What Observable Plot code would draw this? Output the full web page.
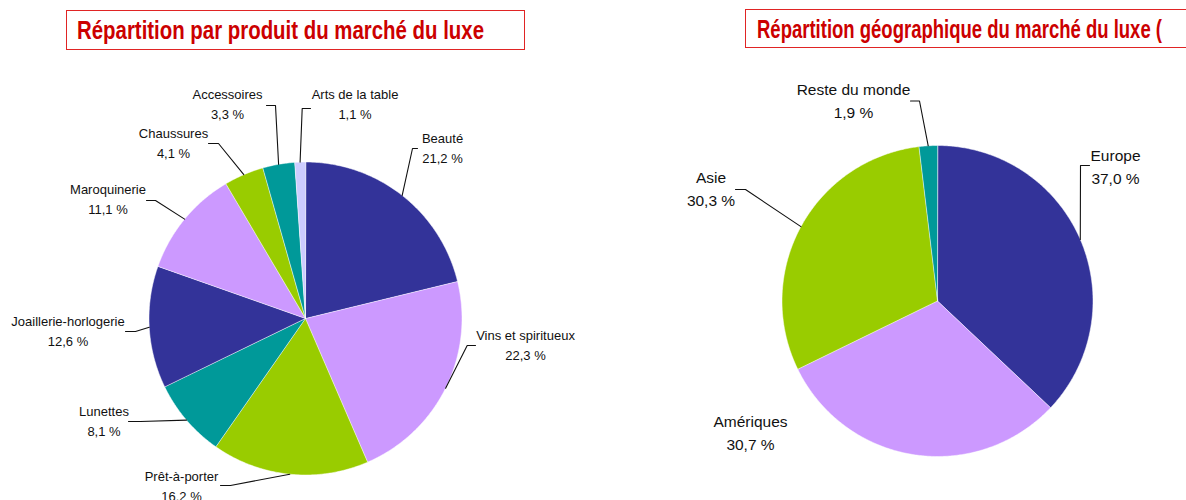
<!DOCTYPE html>
<html>
<head>
<meta charset="utf-8">
<script src="https://cdn.jsdelivr.net/npm/d3@7"></script>
<script src="https://cdn.jsdelivr.net/npm/@observablehq/plot@0.6"></script>
<style>
  html, body { margin: 0; padding: 0; background: #fff; overflow: hidden; }
  #wrap { position: relative; width: 1186px; height: 500px; overflow: hidden; background: #fff; }
  #chart { position: absolute; left: 0; top: 0; }
  .tbox { position: absolute; box-sizing: border-box; border: 1.5px solid #E02424; background: transparent; }
  .ttext { position: absolute; white-space: nowrap; height: 30px; }
  .ttext span { display: inline-block; transform-origin: 0 0; font-family: "Liberation Sans Narrow", "Arial Narrow", "Liberation Sans", Arial, sans-serif; font-weight: bold; font-size: 25px; line-height: 25px; color: #CC0000; }
</style>
</head>
<body>
<div id="wrap">
  <div id="chart"></div>
  <div class="tbox" style="left:66px;top:10px;width:459px;height:40px;"></div>
  <div class="tbox" style="left:745px;top:9px;width:520px;height:39px;"></div>
  <div class="ttext" id="t1" style="left:77px;top:18px;"><span></span></div>
  <div class="ttext" id="t2" style="left:757px;top:17px;"><span></span></div>
</div>
<script>
// ---------- data ----------
const titleProducts = "Répartition par produit du marché du luxe";
const titleRegions = "Répartition géographique du marché du luxe (";

const productCategories = ["Beauté", "Vins et spiritueux", "Prêt-à-porter", "Lunettes", "Joaillerie-horlogerie", "Maroquinerie", "Chaussures", "Accessoires", "Arts de la table"];
const productShares = [21.2, 22.3, 16.2, 8.1, 12.6, 11.1, 4.1, 3.3, 1.1];
const productShareLabels = ["21,2 %", "22,3 %", "16.2 %", "8,1 %", "12,6 %", "11,1 %", "4,1 %", "3,3 %", "1,1 %"];

const regionCategories = ["Europe", "Amériques", "Asie", "Reste du monde"];
const regionShares = [37.0, 30.7, 30.3, 1.9];
const regionShareLabels = ["37,0 %", "30,7 %", "30,3 %", "1,9 %"];

// ---------- styles / layout ----------
const productColors = ["#333399", "#CC99FF", "#99CC00", "#009999", "#333399", "#CC99FF", "#99CC00", "#009999", "#CCCCFF"];
const regionColors = ["#333399", "#CC99FF", "#99CC00", "#009999"];

const W = 1186, H = 500;
const productPie = {cx: 305, cy: 318, r: 156.5};
const regionPie = {cx: 937, cy: 300.5, r: 155.5};

// label layout relative to pie centre: [labelX, lastBaselineY, leaderY, elbowX, tipX]
const productLabelLayout = [
  [137, -156, -170, 107, 112],
  [220, 41, 27, 161.7, 170],
  [-124, 182, 167, -75, -85],
  [-201.5, 117, 103, -165, -177],
  [-237.5, 27, 13, -170, -180],
  [-197.5, -104.5, -118, -150, -159],
  [-132, -160.5, -175, -87, -97],
  [-78, -200, -213, -30, -39],
  [49.5, -200, -210, -3.3, 5]
];
const regionLabelLayout = [
  [178, -117.5, -135.5, 143, 152],
  [-187, 148.5, null, null, null],
  [-226.5, -95.5, -111.5, -192, -202],
  [-84, -183.5, -200, -18, -27]
];

// ---------- geometry from data ----------
function buildPie(prefix, names, values, shareLabels, colors, geom, layout) {
  const arcs = d3.pie().sort(null).value(d => d)(values);
  const poly = [], leaders = [], labels = [];
  arcs.forEach((a, i) => {
    const key = prefix + i;
    const n = Math.max(2, Math.ceil((a.endAngle - a.startAngle) / (Math.PI / 360)));
    poly.push({key, fill: colors[i], x: geom.cx, y: geom.cy});
    for (let k = 0; k <= n; k++) {
      const t = a.startAngle + (a.endAngle - a.startAngle) * k / n;
      poly.push({key, fill: colors[i], x: geom.cx + geom.r * Math.sin(t), y: geom.cy - geom.r * Math.cos(t)});
    }
    const m = (a.startAngle + a.endAngle) / 2;
    const ax = geom.cx + geom.r * Math.sin(m), ay = geom.cy - geom.r * Math.cos(m);
    const [lx, ly, leadY, elbowX, tipX] = layout[i];
    labels.push({x: geom.cx + lx, y: geom.cy + ly, text: names[i] + "\n" + shareLabels[i]});
    if (leadY !== null) {
      leaders.push({key, x: ax, y: ay});
      leaders.push({key, x: geom.cx + elbowX, y: geom.cy + leadY});
      leaders.push({key, x: geom.cx + tipX, y: geom.cy + leadY});
    }
  });
  return {poly, leaders, labels};
}

const P = buildPie("p", productCategories, productShares, productShareLabels, productColors, productPie, productLabelLayout);
const R = buildPie("r", regionCategories, regionShares, regionShareLabels, regionColors, regionPie, regionLabelLayout);

const chart = Plot.plot({
  width: W,
  height: H,
  margin: 0,
  style: {background: "transparent", overflow: "hidden"},
  x: {domain: [0, W], range: [0, W], axis: null},
  y: {domain: [0, H], range: [0, H], axis: null},
  color: {type: "identity"},
  marks: [
    Plot.line(P.poly.concat(R.poly), {x: "x", y: "y", z: "key", fill: "fill", stroke: "white", strokeWidth: 0.5, curve: "linear-closed"}),
    Plot.line(P.leaders.concat(R.leaders), {x: "x", y: "y", z: "key", stroke: "#111", strokeWidth: 1.1, curve: "linear"}),
    Plot.text(P.labels, {x: "x", y: "y", text: "text", textAnchor: "middle", lineAnchor: "bottom", lineHeight: 20 / 13, fontSize: 13, fontFamily: "'Liberation Sans', Arial, sans-serif", fill: "#111"}),
    Plot.text(R.labels, {x: "x", y: "y", text: "text", textAnchor: "middle", lineAnchor: "bottom", lineHeight: 23 / 15.5, fontSize: 15.5, fontFamily: "'Liberation Sans', Arial, sans-serif", fill: "#111"})
  ]
});
document.getElementById("chart").appendChild(chart);

// titles (condensed to the reference widths)
function setTitle(id, text, targetWidth) {
  const span = document.querySelector("#" + id + " span");
  span.textContent = text;
  const w = span.getBoundingClientRect().width;
  if (w > 0) span.style.transform = "scaleX(" + (targetWidth / w) + ")";
}
setTitle("t1", titleProducts, 407);
setTitle("t2", titleRegions, 405);
</script>
</body>
</html>
